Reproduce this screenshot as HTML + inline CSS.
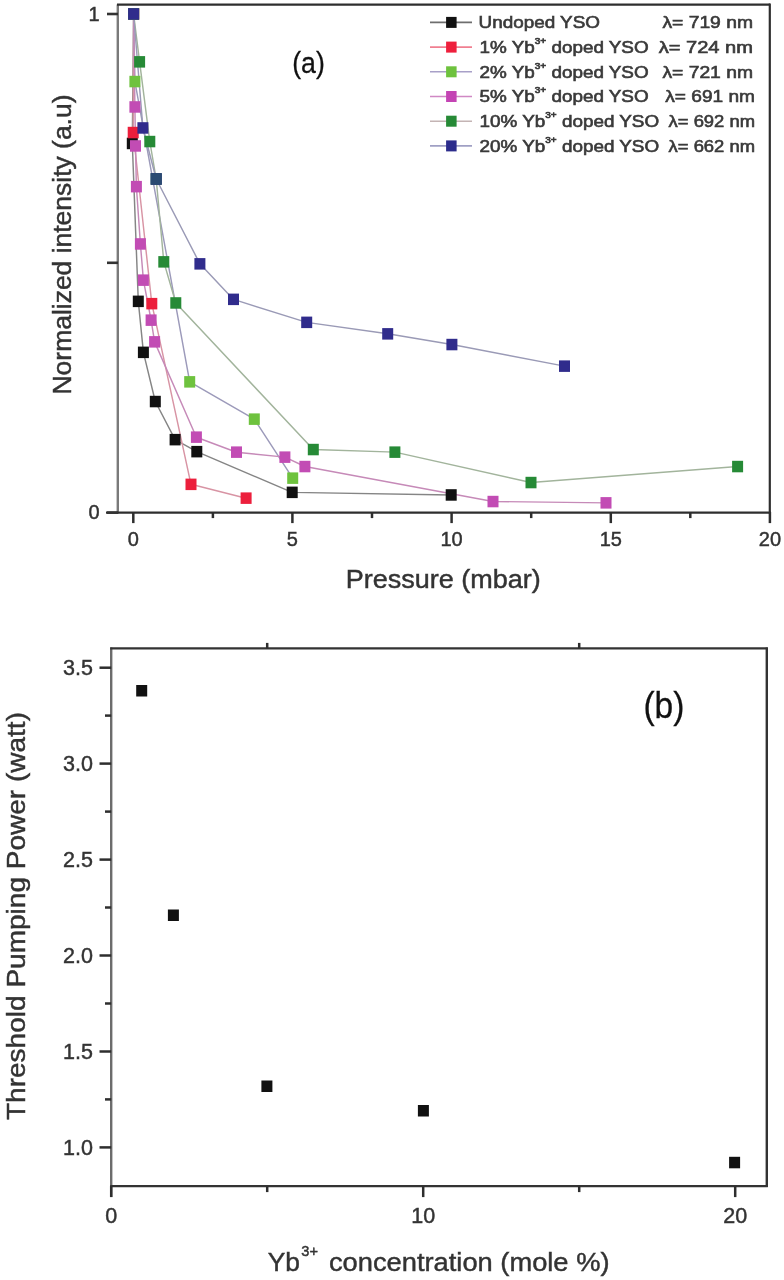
<!DOCTYPE html>
<html><head><meta charset="utf-8"><style>
html,body{margin:0;padding:0;background:#fff;}
svg{display:block;filter:blur(0.7px);}
text{font-family:"Liberation Sans", sans-serif;stroke:#333;stroke-width:0.45px;}
</style></head><body>
<svg width="784" height="1280" viewBox="0 0 784 1280">
<polyline points="133.6,14.0 132.3,143.4 138.3,301.4 143.4,352.4 155.3,401.5 175.1,439.7 196.8,451.6 292.2,492.4 451.2,495.0" fill="none" stroke="#858585" stroke-width="1.45" stroke-linejoin="round"/>
<polyline points="133.6,14.0 133.2,132.5 151.8,303.6 191.0,484.3 246.1,498.2" fill="none" stroke="#d894a4" stroke-width="1.45" stroke-linejoin="round"/>
<polyline points="133.6,14.0 134.9,81.6 189.7,381.9 254.3,419.2 292.7,478.2" fill="none" stroke="#9c9aba" stroke-width="1.45" stroke-linejoin="round"/>
<polyline points="133.6,14.0 134.9,107.0 135.5,146.0 136.4,186.7 140.4,244.0 143.4,280.1 151.1,320.2 154.6,341.9 196.4,437.2 236.5,452.2 284.9,457.1 304.9,466.5 493.0,501.5 606.0,502.9" fill="none" stroke="#c68ab8" stroke-width="1.45" stroke-linejoin="round"/>
<polyline points="133.6,14.0 139.6,61.9 149.8,141.5 156.2,179.0 163.8,261.9 175.8,303.0 313.3,449.5 394.9,452.1 531.0,482.5 737.6,466.5" fill="none" stroke="#a2b49c" stroke-width="1.45" stroke-linejoin="round"/>
<polyline points="133.6,14.0 142.9,128.0 156.2,179.0 199.9,263.8 233.5,299.4 306.7,322.4 387.7,333.8 451.9,344.5 564.5,366.1" fill="none" stroke="#9a9ab6" stroke-width="1.45" stroke-linejoin="round"/>
<rect x="128.1" y="8.2" width="11" height="11.5" fill="#111111"/>
<rect x="126.8" y="137.7" width="11" height="11.5" fill="#111111"/>
<rect x="132.8" y="295.6" width="11" height="11.5" fill="#111111"/>
<rect x="137.9" y="346.6" width="11" height="11.5" fill="#111111"/>
<rect x="149.8" y="395.8" width="11" height="11.5" fill="#111111"/>
<rect x="169.6" y="433.9" width="11" height="11.5" fill="#111111"/>
<rect x="191.3" y="445.9" width="11" height="11.5" fill="#111111"/>
<rect x="286.7" y="486.6" width="11" height="11.5" fill="#111111"/>
<rect x="445.7" y="489.2" width="11" height="11.5" fill="#111111"/>
<rect x="128.1" y="8.2" width="11" height="11.5" fill="#ec1f3c"/>
<rect x="127.7" y="126.8" width="11" height="11.5" fill="#ec1f3c"/>
<rect x="146.3" y="297.9" width="11" height="11.5" fill="#ec1f3c"/>
<rect x="185.5" y="478.6" width="11" height="11.5" fill="#ec1f3c"/>
<rect x="240.6" y="492.4" width="11" height="11.5" fill="#ec1f3c"/>
<rect x="128.1" y="8.2" width="11" height="11.5" fill="#6ec23e"/>
<rect x="129.4" y="75.8" width="11" height="11.5" fill="#6ec23e"/>
<rect x="184.2" y="376.1" width="11" height="11.5" fill="#6ec23e"/>
<rect x="248.8" y="413.4" width="11" height="11.5" fill="#6ec23e"/>
<rect x="287.2" y="472.4" width="11" height="11.5" fill="#6ec23e"/>
<rect x="128.1" y="8.2" width="11" height="11.5" fill="#c24cb4"/>
<rect x="129.4" y="101.2" width="11" height="11.5" fill="#c24cb4"/>
<rect x="130.0" y="140.2" width="11" height="11.5" fill="#c24cb4"/>
<rect x="130.9" y="180.9" width="11" height="11.5" fill="#c24cb4"/>
<rect x="134.9" y="238.2" width="11" height="11.5" fill="#c24cb4"/>
<rect x="137.9" y="274.4" width="11" height="11.5" fill="#c24cb4"/>
<rect x="145.6" y="314.4" width="11" height="11.5" fill="#c24cb4"/>
<rect x="149.1" y="336.1" width="11" height="11.5" fill="#c24cb4"/>
<rect x="190.9" y="431.4" width="11" height="11.5" fill="#c24cb4"/>
<rect x="231.0" y="446.4" width="11" height="11.5" fill="#c24cb4"/>
<rect x="279.4" y="451.4" width="11" height="11.5" fill="#c24cb4"/>
<rect x="299.4" y="460.8" width="11" height="11.5" fill="#c24cb4"/>
<rect x="487.5" y="495.8" width="11" height="11.5" fill="#c24cb4"/>
<rect x="600.5" y="497.1" width="11" height="11.5" fill="#c24cb4"/>
<rect x="128.1" y="8.2" width="11" height="11.5" fill="#268a36"/>
<rect x="134.1" y="56.1" width="11" height="11.5" fill="#268a36"/>
<rect x="144.3" y="135.8" width="11" height="11.5" fill="#268a36"/>
<rect x="150.7" y="173.2" width="11" height="11.5" fill="#268a36"/>
<rect x="158.3" y="256.1" width="11" height="11.5" fill="#268a36"/>
<rect x="170.3" y="297.2" width="11" height="11.5" fill="#268a36"/>
<rect x="307.8" y="443.8" width="11" height="11.5" fill="#268a36"/>
<rect x="389.4" y="446.4" width="11" height="11.5" fill="#268a36"/>
<rect x="525.5" y="476.8" width="11" height="11.5" fill="#268a36"/>
<rect x="732.1" y="460.8" width="11" height="11.5" fill="#268a36"/>
<rect x="128.1" y="8.2" width="11" height="11.5" fill="#302c8c"/>
<rect x="137.4" y="122.2" width="11" height="11.5" fill="#302c8c"/>
<rect x="150.7" y="173.2" width="11" height="11.5" fill="#302c8c"/>
<rect x="194.4" y="258.1" width="11" height="11.5" fill="#302c8c"/>
<rect x="228.0" y="293.6" width="11" height="11.5" fill="#302c8c"/>
<rect x="301.2" y="316.6" width="11" height="11.5" fill="#302c8c"/>
<rect x="382.2" y="328.1" width="11" height="11.5" fill="#302c8c"/>
<rect x="446.4" y="338.8" width="11" height="11.5" fill="#302c8c"/>
<rect x="559.0" y="360.4" width="11" height="11.5" fill="#302c8c"/>
<rect x="150.7" y="173.2" width="11" height="11.5" fill="#2b4b72"/>
<line x1="117.8" y1="4.5" x2="117.8" y2="513.5" stroke="#7a7a7a" stroke-width="2.4"/>
<line x1="117" y1="4.6" x2="770" y2="4.6" stroke="#2e2e2e" stroke-width="2.2"/>
<line x1="769.8" y1="3.5" x2="769.8" y2="513.5" stroke="#2e2e2e" stroke-width="2.2"/>
<line x1="106" y1="512.6" x2="771" y2="512.6" stroke="#2e2e2e" stroke-width="2.2"/>
<line x1="107" y1="14.0" x2="118" y2="14.0" stroke="#333" stroke-width="2.6"/>
<line x1="107" y1="262.8" x2="118" y2="262.8" stroke="#333" stroke-width="2.6"/>
<line x1="107" y1="512.6" x2="118" y2="512.6" stroke="#333" stroke-width="2.6"/>
<line x1="133.3" y1="512" x2="133.3" y2="523.1" stroke="#2e2e2e" stroke-width="2.5"/>
<line x1="212.9" y1="512" x2="212.9" y2="518.1" stroke="#2e2e2e" stroke-width="2.5"/>
<line x1="292.4" y1="512" x2="292.4" y2="523.1" stroke="#2e2e2e" stroke-width="2.5"/>
<line x1="372.0" y1="512" x2="372.0" y2="518.1" stroke="#2e2e2e" stroke-width="2.5"/>
<line x1="451.6" y1="512" x2="451.6" y2="523.1" stroke="#2e2e2e" stroke-width="2.5"/>
<line x1="531.2" y1="512" x2="531.2" y2="518.1" stroke="#2e2e2e" stroke-width="2.5"/>
<line x1="610.8" y1="512" x2="610.8" y2="523.1" stroke="#2e2e2e" stroke-width="2.5"/>
<line x1="690.3" y1="512" x2="690.3" y2="518.1" stroke="#2e2e2e" stroke-width="2.5"/>
<line x1="769.9" y1="512" x2="769.9" y2="523.1" stroke="#2e2e2e" stroke-width="2.5"/>
<text x="94" y="519" font-size="20" text-anchor="middle" fill="#333">0</text>
<text x="94" y="21" font-size="20" text-anchor="middle" fill="#333">1</text>
<text x="133.3" y="546" font-size="20" text-anchor="middle" fill="#333">0</text>
<text x="292.4" y="546" font-size="20" text-anchor="middle" fill="#333">5</text>
<text x="451.6" y="546" font-size="20" text-anchor="middle" fill="#333">10</text>
<text x="610.8" y="546" font-size="20" text-anchor="middle" fill="#333">15</text>
<text x="769.9" y="546" font-size="20" text-anchor="middle" fill="#333">20</text>
<text x="345.8" y="588.3" font-size="25.5" fill="#333" textLength="195" lengthAdjust="spacingAndGlyphs">Pressure (mbar)</text>
<text transform="translate(70.5,394.5) rotate(-90)" x="0" y="0" font-size="25" fill="#333" textLength="300" lengthAdjust="spacingAndGlyphs">Normalized intensity (a.u)</text>
<text x="292.2" y="73.2" font-size="30" fill="#111" style="stroke:#111;stroke-width:0.3px" textLength="32.6" lengthAdjust="spacingAndGlyphs">(a)</text>
<line x1="430" y1="22.4" x2="472" y2="22.4" stroke="#6e6e6e" stroke-width="1.6"/>
<rect x="446.1" y="16.9" width="10.5" height="11.0" fill="#111111"/>
<text transform="translate(478.6,28.2) scale(1.18,1)" font-size="16" fill="#3a3a3a" style="stroke:#3a3a3a;stroke-width:0.6px">Undoped YSO</text>
<text x="662.4" y="28.2" font-size="16" fill="#3a3a3a" style="stroke:#3a3a3a;stroke-width:0.6px" textLength="90.6" lengthAdjust="spacingAndGlyphs">λ= 719 nm</text>
<line x1="430" y1="47.1" x2="472" y2="47.1" stroke="#f07f90" stroke-width="1.6"/>
<rect x="446.1" y="41.6" width="10.5" height="11.0" fill="#ee1f3c"/>
<text transform="translate(479.5,52.9) scale(1.18,1)" font-size="16" fill="#3a3a3a" style="stroke:#3a3a3a;stroke-width:0.6px">1% Yb<tspan dy="-9" font-size="8.5">3+</tspan><tspan dy="9"> doped YSO</tspan></text>
<text x="658.7" y="52.9" font-size="16" fill="#3a3a3a" style="stroke:#3a3a3a;stroke-width:0.6px" textLength="94.3" lengthAdjust="spacingAndGlyphs">λ= 724 nm</text>
<line x1="430" y1="71.8" x2="472" y2="71.8" stroke="#a8a0c8" stroke-width="1.6"/>
<rect x="446.1" y="66.3" width="10.5" height="11.0" fill="#6ec23e"/>
<text transform="translate(479.5,77.6) scale(1.18,1)" font-size="16" fill="#3a3a3a" style="stroke:#3a3a3a;stroke-width:0.6px">2% Yb<tspan dy="-9" font-size="8.5">3+</tspan><tspan dy="9"> doped YSO</tspan></text>
<text x="662.4" y="77.6" font-size="16" fill="#3a3a3a" style="stroke:#3a3a3a;stroke-width:0.6px" textLength="90.6" lengthAdjust="spacingAndGlyphs">λ= 721 nm</text>
<line x1="430" y1="96.5" x2="472" y2="96.5" stroke="#d088c4" stroke-width="1.6"/>
<rect x="446.1" y="91.0" width="10.5" height="11.0" fill="#c444b4"/>
<text transform="translate(479.5,102.3) scale(1.18,1)" font-size="16" fill="#3a3a3a" style="stroke:#3a3a3a;stroke-width:0.6px">5% Yb<tspan dy="-9" font-size="8.5">3+</tspan><tspan dy="9"> doped YSO</tspan></text>
<text x="665.3" y="102.3" font-size="16" fill="#3a3a3a" style="stroke:#3a3a3a;stroke-width:0.6px" textLength="89.7" lengthAdjust="spacingAndGlyphs">λ= 691 nm</text>
<line x1="430" y1="121.2" x2="472" y2="121.2" stroke="#c4b4b4" stroke-width="1.6"/>
<rect x="446.1" y="115.7" width="10.5" height="11.0" fill="#268a36"/>
<text transform="translate(479.5,127.0) scale(1.18,1)" font-size="16" fill="#3a3a3a" style="stroke:#3a3a3a;stroke-width:0.6px">10% Yb<tspan dy="-9" font-size="8.5">3+</tspan><tspan dy="9"> doped YSO</tspan></text>
<text x="668.6" y="127.0" font-size="16" fill="#3a3a3a" style="stroke:#3a3a3a;stroke-width:0.6px" textLength="86.4" lengthAdjust="spacingAndGlyphs">λ= 692 nm</text>
<line x1="430" y1="145.9" x2="472" y2="145.9" stroke="#a0a0c4" stroke-width="1.6"/>
<rect x="446.1" y="140.4" width="10.5" height="11.0" fill="#2c2c8c"/>
<text transform="translate(479.5,151.7) scale(1.18,1)" font-size="16" fill="#3a3a3a" style="stroke:#3a3a3a;stroke-width:0.6px">20% Yb<tspan dy="-9" font-size="8.5">3+</tspan><tspan dy="9"> doped YSO</tspan></text>
<text x="668.6" y="151.7" font-size="16" fill="#3a3a3a" style="stroke:#3a3a3a;stroke-width:0.6px" textLength="86.4" lengthAdjust="spacingAndGlyphs">λ= 662 nm</text>
<line x1="111.2" y1="647.4" x2="111.2" y2="1197.1" stroke="#6c6c6c" stroke-width="2.4"/>
<line x1="110.2" y1="648.4" x2="767.8" y2="648.4" stroke="#333" stroke-width="2.2"/>
<line x1="766.8" y1="647.4" x2="766.8" y2="1187.1" stroke="#333" stroke-width="2.4"/>
<line x1="110.2" y1="1186.1" x2="767.8" y2="1186.1" stroke="#333" stroke-width="2.4"/>
<line x1="99.5" y1="1147.4" x2="111.2" y2="1147.4" stroke="#2e2e2e" stroke-width="2.5"/>
<text x="93" y="1154.9" font-size="21.5" fill="#333" text-anchor="end">1.0</text>
<line x1="99.5" y1="1051.5" x2="111.2" y2="1051.5" stroke="#2e2e2e" stroke-width="2.5"/>
<text x="93" y="1059.0" font-size="21.5" fill="#333" text-anchor="end">1.5</text>
<line x1="99.5" y1="955.5" x2="111.2" y2="955.5" stroke="#2e2e2e" stroke-width="2.5"/>
<text x="93" y="963.0" font-size="21.5" fill="#333" text-anchor="end">2.0</text>
<line x1="99.5" y1="859.6" x2="111.2" y2="859.6" stroke="#2e2e2e" stroke-width="2.5"/>
<text x="93" y="867.1" font-size="21.5" fill="#333" text-anchor="end">2.5</text>
<line x1="99.5" y1="763.6" x2="111.2" y2="763.6" stroke="#2e2e2e" stroke-width="2.5"/>
<text x="93" y="771.1" font-size="21.5" fill="#333" text-anchor="end">3.0</text>
<line x1="99.5" y1="667.7" x2="111.2" y2="667.7" stroke="#2e2e2e" stroke-width="2.5"/>
<text x="93" y="675.2" font-size="21.5" fill="#333" text-anchor="end">3.5</text>
<line x1="105" y1="1099.4" x2="111.2" y2="1099.4" stroke="#2e2e2e" stroke-width="2.5"/>
<line x1="105" y1="1003.5" x2="111.2" y2="1003.5" stroke="#2e2e2e" stroke-width="2.5"/>
<line x1="105" y1="907.5" x2="111.2" y2="907.5" stroke="#2e2e2e" stroke-width="2.5"/>
<line x1="105" y1="811.6" x2="111.2" y2="811.6" stroke="#2e2e2e" stroke-width="2.5"/>
<line x1="105" y1="715.6" x2="111.2" y2="715.6" stroke="#2e2e2e" stroke-width="2.5"/>
<line x1="111.2" y1="1186.1" x2="111.2" y2="1197.1" stroke="#2e2e2e" stroke-width="2.5"/>
<text x="111.2" y="1222.5" font-size="21.5" fill="#333" text-anchor="middle">0</text>
<line x1="423.2" y1="1186.1" x2="423.2" y2="1197.1" stroke="#2e2e2e" stroke-width="2.5"/>
<text x="423.2" y="1222.5" font-size="21.5" fill="#333" text-anchor="middle">10</text>
<line x1="735.2" y1="1186.1" x2="735.2" y2="1197.1" stroke="#2e2e2e" stroke-width="2.5"/>
<text x="735.2" y="1222.5" font-size="21.5" fill="#333" text-anchor="middle">20</text>
<line x1="267.2" y1="1186.1" x2="267.2" y2="1192.1" stroke="#2e2e2e" stroke-width="2.5"/>
<line x1="267.2" y1="648.4" x2="267.2" y2="642.9" stroke="#2e2e2e" stroke-width="2.5"/>
<line x1="579.2" y1="1186.1" x2="579.2" y2="1192.1" stroke="#2e2e2e" stroke-width="2.5"/>
<line x1="579.2" y1="648.4" x2="579.2" y2="642.9" stroke="#2e2e2e" stroke-width="2.5"/>
<rect x="136.2" y="685.0" width="11" height="11.5" fill="#111111"/>
<rect x="167.9" y="909.5" width="11" height="11.5" fill="#111111"/>
<rect x="261.4" y="1080.5" width="11" height="11.5" fill="#111111"/>
<rect x="417.9" y="1105.0" width="11" height="11.5" fill="#111111"/>
<rect x="729.1" y="1156.8" width="11" height="11.5" fill="#111111"/>
<text x="643.4" y="718.2" font-size="36.5" fill="#111" style="stroke:#111;stroke-width:0.3px" textLength="41" lengthAdjust="spacingAndGlyphs">(b)</text>
<text transform="translate(25.2,1120) rotate(-90)" x="0" y="0" font-size="26" fill="#333" textLength="408" lengthAdjust="spacingAndGlyphs">Threshold Pumping Power (watt)</text>
<text x="267.7" y="1270.8" font-size="26.5" fill="#333" textLength="32.3" lengthAdjust="spacingAndGlyphs">Yb</text>
<text x="301.3" y="1256" font-size="14.5" fill="#333" textLength="16.7" lengthAdjust="spacingAndGlyphs">3+</text>
<text x="328.9" y="1270.8" font-size="26.5" fill="#333" textLength="280.6" lengthAdjust="spacingAndGlyphs">concentration (mole %)</text>
</svg>
</body></html>
